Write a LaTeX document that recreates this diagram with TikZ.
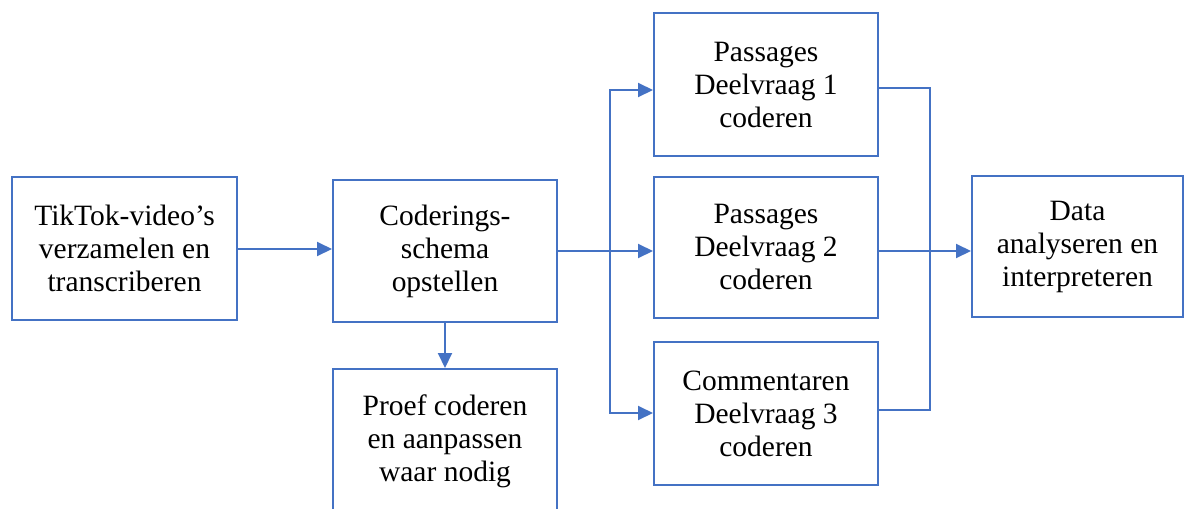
\documentclass[tikz,border=0pt]{standalone}
\usepackage{fontspec}
\setmainfont{Liberation Serif}
\usetikzlibrary{arrows.meta}
\definecolor{lineblue}{HTML}{4472C4}
\tikzset{
  box/.style={draw=lineblue, line width=2pt, fill=white, inner sep=0pt, align=center,
    font=\fontsize{29.5}{33}\selectfont},
  conn/.style={draw=lineblue, line width=2pt},
  arr/.style={conn, -{Triangle[length=15pt,width=14pt]}},
}
\begin{document}
\begin{tikzpicture}[x=1pt,y=-1pt]
\useasboundingbox (0,0) rectangle (1187,509);
\clip (0,0) rectangle (1187,509);
\node[box, minimum width=225pt, minimum height=143pt] (A) at (124.5,248.5) {TikTok-video’s\\verzamelen en\\transcriberen};
\node[box, minimum width=224pt, minimum height=142pt] (B) at (445,251) {Coderings-\\schema\\opstellen};
\node[box, minimum width=224pt, minimum height=144pt] (C) at (445,441) {Proef coderen\\en aanpassen\\waar nodig};
\node[box, minimum width=224pt, minimum height=143pt] (D1) at (766,84.5) {Passages\\Deelvraag 1\\coderen};
\node[box, minimum width=224pt, minimum height=141pt] (D2) at (766,247) {Passages\\Deelvraag 2\\coderen};
\node[box, minimum width=224pt, minimum height=143pt] (D3) at (766,413.5) {Commentaren\\Deelvraag 3\\coderen};
\node[box, minimum width=211pt, minimum height=141pt] (E) at (1077.5,246.5) {Data\\analyseren en\\interpreteren};
\coordinate (split) at (610,251);
\coordinate (merge) at (930,251);
\draw[arr] (A.east |- 0,249) -- (B.west |- 0,249);
\draw[arr] (B.south) -- (C.north);
\draw[conn] (B.east |- split) -- (split);
\draw[arr] (split) |- (D1.west |- 0,90);
\draw[arr] (split) -- (D2.west |- split);
\draw[arr] (split) |- (D3.west |- 0,413);
\draw[conn] (D1.east |- 0,88) -| (merge);
\draw[conn] (D3.east |- 0,410) -| (merge);
\draw[arr] (D2.east |- merge) -- (E.west |- merge);
\end{tikzpicture}
\end{document}
